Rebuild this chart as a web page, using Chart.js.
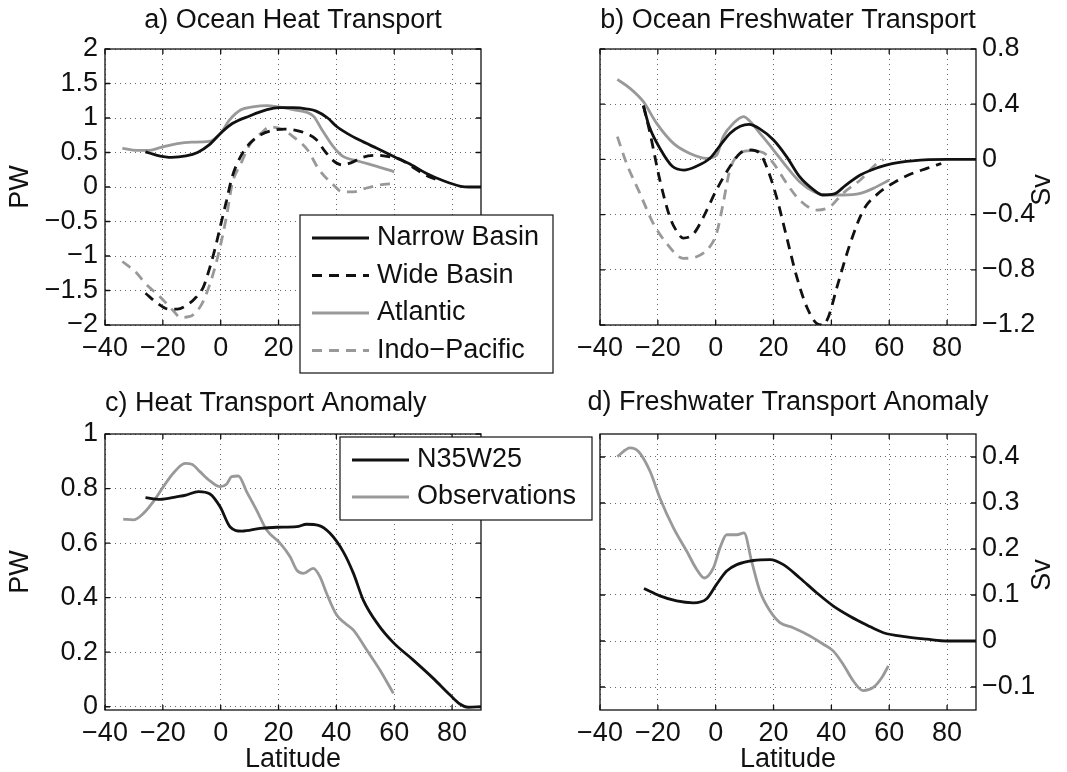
<!DOCTYPE html>
<html>
<head>
<meta charset="utf-8">
<title>Ocean heat and freshwater transport</title>
<script src="https://cdn.jsdelivr.net/npm/chart.js@4.4.1/dist/chart.umd.min.js"></script>
<style>
  html, body { margin: 0; padding: 0; background: #fff; overflow: hidden; }
  #page { position: relative; width: 1067px; height: 772px; }
  #page canvas { position: absolute; }
</style>
</head>
<body>
<div id="page">
  <canvas id="heat" width="600" height="386" style="left:0;top:0"></canvas>
  <canvas id="fresh" width="527" height="386" style="left:540px;top:0"></canvas>
  <canvas id="heatAnom" width="600" height="392" style="left:0;top:386px"></canvas>
  <canvas id="freshAnom" width="527" height="392" style="left:540px;top:386px"></canvas>
</div>
<script>
// Tick labels
const latTicks = [-40, -20, 0, 20, 40, 60, 80];
const heatTicks = [-2, -1.5, -1, -0.5, 0, 0.5, 1, 1.5, 2];
const freshTicks = [-1.2, -0.8, -0.4, 0, 0.4, 0.8];
const heatAnomTicks = [0, 0.2, 0.4, 0.6, 0.8, 1];
const freshAnomTicks = [-0.1, 0, 0.1, 0.2, 0.3, 0.4];

// a) Ocean heat transport (PW)
const narrowHeatLat = [-26, -22, -17, -12, -8, -4, 0, 4, 10, 16, 20, 25, 30, 33, 37, 40, 44, 48, 54, 60, 66, 71, 77, 83, 86, 90];
const narrowHeat = [0.51, 0.46, 0.43, 0.45, 0.5, 0.61, 0.78, 0.92, 1.03, 1.12, 1.15, 1.15, 1.13, 1.1, 1.0, 0.88, 0.77, 0.68, 0.56, 0.44, 0.32, 0.2, 0.09, 0.01, 0, 0];
const wideHeatLat = [-26, -22, -18, -15, -12, -9, -6, -4, -2, 0, 2, 4, 7, 10, 14, 18, 22, 26, 30, 33, 36, 39, 42, 45, 49, 54, 58, 62, 66, 70, 75];
const wideHeat = [-1.54, -1.68, -1.77, -1.77, -1.72, -1.62, -1.45, -1.2, -0.9, -0.55, -0.2, 0.15, 0.45, 0.63, 0.76, 0.82, 0.84, 0.82, 0.77, 0.69, 0.52, 0.38, 0.32, 0.35, 0.43, 0.46, 0.44, 0.4, 0.3, 0.19, 0.1];
const atlHeatLat = [-34, -29, -25, -21, -15, -10, -4, 0, 3, 7, 11, 16, 20, 25, 32, 35, 39, 42, 48, 54, 60];
const atlHeat = [0.56, 0.53, 0.53, 0.57, 0.63, 0.65, 0.66, 0.78, 0.97, 1.12, 1.16, 1.18, 1.16, 1.12, 1.03, 0.83, 0.58, 0.45, 0.37, 0.3, 0.22];
const indoHeatLat = [-34, -29, -26, -21, -16, -14, -11, -7, -4, -1, 2, 4, 7, 10, 14, 17, 21, 25, 30, 34, 39, 42, 46, 50, 55, 60];
const indoHeat = [-1.08, -1.25, -1.4, -1.59, -1.81, -1.89, -1.88, -1.73, -1.44, -1.01, -0.43, 0.05, 0.34, 0.61, 0.78, 0.87, 0.84, 0.73, 0.54, 0.25, 0.03, -0.07, -0.07, -0.02, 0.03, 0.05];

// b) Ocean freshwater transport (Sv)
const narrowFwLat = [-25, -23, -19, -15, -11, -7, -2, 1.5, 5, 8.5, 11.5, 15, 20, 24.5, 29, 34, 37, 41, 45, 50, 56, 61, 68, 80, 90];
const narrowFw = [0.39, 0.24, 0.07, -0.05, -0.077, -0.053, 0.008, 0.1, 0.19, 0.24, 0.254, 0.225, 0.14, 0.02, -0.125, -0.222, -0.258, -0.25, -0.186, -0.113, -0.06, -0.03, -0.01, 0, 0];
const wideFwLat = [-25, -22.7, -19.3, -15.8, -13.5, -11.2, -7.7, -4.3, 0.3, 5, 8.4, 12, 15.3, 17.6, 21, 24.5, 28, 31.5, 35, 37, 39, 42, 46.5, 51, 56, 61.5, 67, 73, 78];
const wideFw = [0.39, 0.19, -0.15, -0.42, -0.52, -0.57, -0.54, -0.42, -0.22, -0.05, 0.044, 0.068, 0.044, -0.053, -0.27, -0.56, -0.85, -1.07, -1.19, -1.2, -1.14, -0.92, -0.61, -0.37, -0.25, -0.17, -0.11, -0.065, -0.03];
const atlFwLat = [-34, -29.6, -25, -20.4, -14.6, -8.9, -3.1, 0.3, 2.6, 6.1, 9.6, 12, 15.3, 20, 24.5, 29, 34, 38.4, 44, 50, 54.5, 60];
const atlFw = [0.58, 0.515, 0.418, 0.261, 0.116, 0.043, 0.008, 0.03, 0.165, 0.261, 0.31, 0.273, 0.189, 0.068, -0.053, -0.161, -0.234, -0.258, -0.258, -0.246, -0.21, -0.149];
const indoFwLat = [-34, -30.8, -26.2, -21.6, -17, -11.2, -6.6, -2, 0.3, 2.6, 4.9, 8.4, 12, 16.5, 20, 24.5, 29, 35, 39.5, 44, 50, 55.7, 58];
const indoFw = [0.165, -0.03, -0.246, -0.463, -0.608, -0.717, -0.705, -0.632, -0.536, -0.318, -0.077, 0.044, 0.063, 0.048, -0.029, -0.173, -0.294, -0.367, -0.343, -0.246, -0.149, -0.03, 0.0];

// c) Heat transport anomaly (PW)
const n35HeatLat = [-26, -21, -15, -12, -7.7, -3.7, -0.2, 3.2, 7.3, 13.6, 19.4, 26.3, 29.7, 33.8, 37.8, 42.4, 45.9, 49.3, 54.5, 59.7, 66.6, 73.5, 79.3, 82.7, 85.6, 90];
const n35Heat = [0.767, 0.76, 0.77, 0.776, 0.789, 0.78, 0.733, 0.66, 0.644, 0.654, 0.658, 0.66, 0.669, 0.665, 0.636, 0.568, 0.489, 0.391, 0.3, 0.235, 0.171, 0.104, 0.043, 0.01, -0.002, 0];
const obsHeatLat = [-33.7, -30.2, -26.7, -23.3, -19.8, -16.4, -12.3, -10, -7.2, -3.7, -0.2, 2.1, 3.8, 6.1, 9, 12.4, 15.9, 20.5, 24, 26.3, 28.6, 32, 34.3, 36.6, 40.1, 43, 45.9, 50.5, 55.1, 59.7];
const obsHeat = [0.688, 0.685, 0.709, 0.752, 0.807, 0.856, 0.892, 0.889, 0.862, 0.828, 0.807, 0.817, 0.844, 0.846, 0.788, 0.721, 0.648, 0.6, 0.55, 0.501, 0.489, 0.507, 0.477, 0.416, 0.336, 0.306, 0.281, 0.208, 0.134, 0.049];

// d) Freshwater transport anomaly (Sv)
const n35FwLat = [-24.8, -19.3, -13.5, -7.7, -3.1, 0.3, 3.8, 7.3, 13, 18.8, 23.4, 29.1, 34.9, 40.7, 46.4, 52.2, 58, 66, 73, 80, 90];
const n35Fw = [0.114, 0.098, 0.087, 0.083, 0.092, 0.123, 0.152, 0.166, 0.175, 0.177, 0.166, 0.137, 0.105, 0.076, 0.054, 0.035, 0.018, 0.009, 0.004, 0, 0];
const obsFwLat = [-34, -29.6, -26.7, -22.7, -19.3, -14.6, -10, -6.6, -4, -0.8, 1.5, 3.8, 7.3, 9.8, 12.4, 15.3, 18.8, 22.2, 26.8, 32.6, 37.2, 40.7, 44.1, 47.6, 51, 54.5, 57.4, 59.7];
const obsFw = [0.401, 0.42, 0.412, 0.369, 0.311, 0.246, 0.195, 0.156, 0.137, 0.159, 0.203, 0.231, 0.231, 0.235, 0.174, 0.108, 0.065, 0.04, 0.029, 0.011, -0.007, -0.022, -0.051, -0.087, -0.108, -0.101, -0.08, -0.054];

const BLACK = '#111';
const GRAY = '#999';
const FONT = '"Liberation Sans", Arial, Helvetica, sans-serif';
const FONT_SIZE = 27;

Chart.defaults.font.family = FONT;
Chart.defaults.font.size = FONT_SIZE;
Chart.defaults.color = BLACK;

function series(label, lat, vals, color, dashed) {
    return {
        label: label,
        data: lat.map((x, i) => ({ x: x, y: vals[i] })),
        borderColor: color,
        backgroundColor: color,
        borderWidth: 2.8,
        borderDash: dashed ? [10, 7] : [],
        pointRadius: 0,
        cubicInterpolationMode: 'monotone',
        fill: false
    };
}

// matlab prints a long minus sign
function minusSign(v) {
    return String(v).replace('-', '\u2212');
}

// Box round the plot area, tick marks pointing inwards
const framePlugin = {
    id: 'frame',
    afterDraw(chart) {
        const a = chart.chartArea;
        const ctx = chart.ctx;
        const xs = chart.scales.x;
        const ys = chart.scales.y;
        ctx.save();
        ctx.strokeStyle = BLACK;
        ctx.lineWidth = 1.3;
        ctx.setLineDash([]);
        ctx.strokeRect(a.left, a.top, a.right - a.left, a.bottom - a.top);
        ctx.beginPath();
        xs.ticks.forEach(t => {
            const px = xs.getPixelForValue(t.value);
            ctx.moveTo(px, a.bottom); ctx.lineTo(px, a.bottom - 5);
            ctx.moveTo(px, a.top); ctx.lineTo(px, a.top + 5);
        });
        ys.ticks.forEach(t => {
            const py = ys.getPixelForValue(t.value);
            ctx.moveTo(a.left, py); ctx.lineTo(a.left + 5, py);
            ctx.moveTo(a.right, py); ctx.lineTo(a.right - 5, py);
        });
        ctx.stroke();
        ctx.restore();
    }
};

// Boxed legend placed over the plot
const boxLegendPlugin = {
    id: 'boxLegend',
    afterDraw(chart, args, opts) {
        if (!opts || !opts.show) return;
        const ctx = chart.ctx;
        ctx.save();
        ctx.fillStyle = '#fff';
        ctx.fillRect(opts.left, opts.top, opts.width, opts.height);
        ctx.strokeStyle = BLACK;
        ctx.lineWidth = 1.2;
        ctx.strokeRect(opts.left, opts.top, opts.width, opts.height);
        ctx.font = FONT_SIZE + 'px ' + FONT;
        ctx.textBaseline = 'middle';
        chart.data.datasets.forEach((ds, i) => {
            const y = opts.firstRow + i * opts.rowGap;
            ctx.strokeStyle = ds.borderColor;
            ctx.lineWidth = ds.borderWidth;
            ctx.setLineDash(ds.borderDash);
            ctx.beginPath();
            ctx.moveTo(opts.left + 12, y);
            ctx.lineTo(opts.left + 69, y);
            ctx.stroke();
            ctx.setLineDash([]);
            ctx.fillStyle = BLACK;
            ctx.fillText(ds.label, opts.left + 77, y);
        });
        ctx.restore();
    }
};

// Right hand axis label reading upwards, and titles wider than the plot
const extraTextPlugin = {
    id: 'extraText',
    afterDraw(chart, args, opts) {
        const a = chart.chartArea;
        const ctx = chart.ctx;
        ctx.save();
        ctx.font = FONT_SIZE + 'px ' + FONT;
        ctx.fillStyle = BLACK;
        ctx.textAlign = 'center';
        ctx.textBaseline = 'middle';
        if (opts.wideTitle) {
            ctx.fillText(opts.wideTitle, (a.left + a.right) / 2, opts.titleY);
        }
        if (opts.side) {
            ctx.translate(a.right + 67, (a.top + a.bottom) / 2 + 3);
            ctx.rotate(-Math.PI / 2);
            ctx.fillText(opts.side, 0, 0);
        }
        ctx.restore();
    }
};

function panel(id, o) {
    return new Chart(document.getElementById(id), {
        type: 'line',
        data: { datasets: o.datasets },
        plugins: [framePlugin, boxLegendPlugin, extraTextPlugin],
        options: {
            responsive: false,
            animation: false,
            devicePixelRatio: 1,
            layout: { padding: { left: o.padLeft, right: o.padRight, top: o.padTop || 0, bottom: 0 } },
            plugins: {
                legend: { display: false },
                tooltip: { enabled: false },
                title: {
                    display: !!o.title,
                    text: o.title || '',
                    fullSize: false,
                    align: o.titleAlign || 'center',
                    color: BLACK,
                    font: { size: FONT_SIZE, weight: 'normal' },
                    padding: o.titlePad || 0
                },
                boxLegend: o.legend || { show: false },
                extraText: { side: o.side || '', wideTitle: o.wideTitle || '', titleY: o.wideTitleY || 0 }
            },
            scales: {
                x: {
                    type: 'linear',
                    min: -40,
                    max: 90,
                    afterBuildTicks: s => { s.ticks = latTicks.map(v => ({ value: v })); },
                    afterFit: s => { s.height = o.xHeight; },
                    grid: { color: 'rgba(0,0,0,0.6)', lineWidth: 1, drawTicks: false },
                    border: { display: false, dash: [1, 4] },
                    ticks: { padding: 7, maxRotation: 0, minRotation: 0, autoSkip: false, color: BLACK, callback: minusSign },
                    title: o.xTitle
                        ? { display: true, text: o.xTitle, color: BLACK, padding: { top: 0, bottom: 2 } }
                        : { display: false }
                },
                y: {
                    type: 'linear',
                    position: o.yPos,
                    min: o.yMin,
                    max: o.yMax,
                    afterBuildTicks: s => { s.ticks = o.yTicks.map(v => ({ value: v })); },
                    afterFit: s => { s.width = o.yWidth; },
                    grid: { color: 'rgba(0,0,0,0.6)', lineWidth: 1, drawTicks: false },
                    border: { display: false, dash: [1, 4] },
                    ticks: { padding: o.yPos === 'right' ? 6 : 7, autoSkip: false, color: BLACK, callback: minusSign },
                    title: o.yTitle
                        ? { display: true, text: o.yTitle, color: BLACK, padding: { top: 4, bottom: 0 } }
                        : { display: false }
                }
            }
        }
    });
}

panel('heat', {
    title: 'a) Ocean Heat Transport',
    titlePad: { top: 4, bottom: 12.6 },
    padLeft: 0, padRight: 119,
    xHeight: 61, yWidth: 105, yPos: 'left',
    yMin: -2, yMax: 2, yTicks: heatTicks, yTitle: 'PW',
    datasets: [
        series('Narrow Basin', narrowHeatLat, narrowHeat, BLACK, false),
        series('Wide Basin', wideHeatLat, wideHeat, BLACK, true),
        series('Atlantic', atlHeatLat, atlHeat, GRAY, false),
        series('Indo\u2212Pacific', indoHeatLat, indoHeat, GRAY, true)
    ],
    legend: { show: true, left: 300, top: 215, width: 253, height: 158, firstRow: 238, rowGap: 37.5 }
});

panel('fresh', {
    title: 'b) Ocean Freshwater Transport',
    titlePad: { top: 4, bottom: 12.6 },
    padLeft: 60, padRight: 0,
    xHeight: 61, yWidth: 91, yPos: 'right',
    yMin: -1.2, yMax: 0.8, yTicks: freshTicks, side: 'Sv',
    datasets: [
        series('Narrow Basin', narrowFwLat, narrowFw, BLACK, false),
        series('Wide Basin', wideFwLat, wideFw, BLACK, true),
        series('Atlantic', atlFwLat, atlFw, GRAY, false),
        series('Indo\u2212Pacific', indoFwLat, indoFw, GRAY, true)
    ]
});

panel('heatAnom', {
    title: 'c) Heat Transport Anomaly',
    titleAlign: 'start',
    titlePad: { top: 1, bottom: 14.6 },
    padLeft: 0, padRight: 119,
    xHeight: 68, yWidth: 105, yPos: 'left',
    yMin: -0.012, yMax: 1, yTicks: heatAnomTicks, yTitle: 'PW', xTitle: 'Latitude',
    datasets: [
        series('N35W25', n35HeatLat, n35Heat, BLACK, false),
        series('Observations', obsHeatLat, obsHeat, GRAY, false)
    ],
    legend: { show: true, left: 340, top: 51, width: 252, height: 83, firstRow: 74, rowGap: 37 }
});

// this title is wider than the plot, so it is drawn by extraText
panel('freshAnom', {
    wideTitle: 'd) Freshwater Transport Anomaly',
    wideTitleY: 17,
    padTop: 48,
    padLeft: 60, padRight: 0,
    xHeight: 68, yWidth: 91, yPos: 'right',
    yMin: -0.15, yMax: 0.45, yTicks: freshAnomTicks, side: 'Sv', xTitle: 'Latitude',
    datasets: [
        series('N35W25', n35FwLat, n35Fw, BLACK, false),
        series('Observations', obsFwLat, obsFw, GRAY, false)
    ]
});
</script>
</body>
</html>
